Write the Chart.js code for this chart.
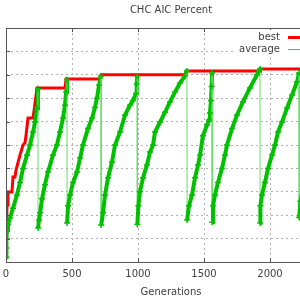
<!DOCTYPE html>
<html>
<head>
<meta charset="utf-8">
<script src="https://cdn.jsdelivr.net/npm/chart.js@4/dist/chart.umd.min.js"></script>
<style>
  html, body { margin: 0; padding: 0; overflow: hidden; background: #fff; }
  #wrap { position: absolute; left: -40px; top: 0; width: 418px; height: 300px; }
</style>
</head>
<body>
<div id="wrap"><canvas id="grafico"></canvas></div>
<script>
// Dados
const titulo = "CHC AIC Percent";
const eixoX = "Generations";
const rotulos = ["best", "average"];

const bestGen = [0, 8, 15, 45, 53, 68, 76, 106, 129, 144, 152, 167, 205, 235, 447, 455, 712, 720, 1356, 1364, 1917, 1924, 2500];
const bestVal = [8.5, 24.4, 29.9, 29.9, 36.3, 36.3, 39.3, 45.7, 50, 50.9, 54.3, 61.5, 61.5, 74.4, 74.4, 78.2, 78.2, 80, 80, 81.6, 81.6, 82.5, 82.5];

const avgGen = [
  0, 2, 4, 8, 15, 30, 53, 83, 106, 129, 159, 182, 205, 220, 235, 242,
  243, 250, 258, 273, 295, 318, 356, 386, 409, 432, 447, 455, 462,
  463, 470, 485, 508, 538, 561, 583, 621, 652, 674, 689, 705, 720,
  721, 735, 750, 773, 803, 826, 864, 902, 939, 962, 985, 990, 994,
  995, 1003, 1015, 1038, 1068, 1091, 1114, 1129, 1167, 1205, 1242, 1280, 1318, 1356, 1371,
  1372, 1386, 1409, 1432, 1455, 1470, 1492, 1523, 1538, 1545, 1553, 1558, 1561,
  1562, 1568, 1583, 1606, 1636, 1659, 1674, 1712, 1750, 1795, 1848, 1902, 1917, 1924,
  1925, 1927, 1939, 1962, 1985, 2015, 2038, 2061, 2091, 2129, 2167, 2205, 2220,
  2221, 2230, 2250, 2280, 2310, 2340, 2380, 2420, 2460, 2500
];
const avgVal = [
  2, 6, 10, 13.7, 16, 18.8, 23, 28.6, 34, 40, 45.7, 50, 55.6, 59.8, 65.8, 74,
  14.5, 18, 21, 27, 33, 38.5, 45.7, 50, 55.6, 61.5, 67, 72.6, 78,
  16.7, 24, 28.6, 34, 38.5, 44.4, 50, 57, 61.5, 66, 70, 75.6, 79.5,
  15.8, 21, 28.6, 36, 42.7, 50, 55.6, 62.8, 67, 69, 72, 76, 79.5,
  16, 24, 30, 36, 41.5, 47, 50, 55.6, 59.8, 64, 68.4, 72.6, 76.5, 79.5, 81.6,
  18, 24, 28.6, 36, 41.5, 45.7, 54, 58.5, 60.7, 63.7, 69, 75, 80.8,
  17, 24, 28.6, 34, 40, 45.7, 50, 57, 62.8, 68.4, 74.4, 80, 81.6, 82.5,
  16.7, 24, 28.6, 34, 40, 45.7, 50, 55.6, 59.8, 65.8, 71.4, 77, 80.8,
  19, 26, 31, 37, 43, 48, 54, 59, 64, 68
];

const corTexto = "#404040";
const corMoldura = "#555555";
const fonte = { family: "DejaVu Sans", size: 10 };

// moldura e marcas internas, estilo gnuplot
const moldura = {
  id: "moldura",
  afterDatasetsDraw(chart) {
    const { ctx, chartArea: a, scales } = chart;
    ctx.save();
    ctx.strokeStyle = corMoldura;
    ctx.lineWidth = 1;
    ctx.strokeRect(a.left + 0.5, a.top + 0.5, a.right - a.left, a.bottom - a.top);
    ctx.beginPath();
    scales.x.ticks.forEach(t => {
      const px = Math.round(scales.x.getPixelForValue(t.value)) + 0.5;
      ctx.moveTo(px, a.top); ctx.lineTo(px, a.top + 4);
      ctx.moveTo(px, a.bottom); ctx.lineTo(px, a.bottom - 4);
    });
    scales.y.ticks.forEach(t => {
      const py = Math.round(scales.y.getPixelForValue(t.value)) + 0.5;
      ctx.moveTo(a.left, py); ctx.lineTo(a.left + 4, py);
    });
    ctx.stroke();
    ctx.restore();
  }
};

// legenda dentro da área do gráfico
const legenda = {
  id: "legenda",
  afterDraw(chart) {
    const { ctx, chartArea: a } = chart;
    ctx.save();
    ctx.fillStyle = "#fff";
    ctx.fillRect(a.right - 100, a.top + 2, 96, 25);
    ctx.font = "10px 'DejaVu Sans'";
    ctx.textAlign = "right";
    ctx.textBaseline = "middle";
    chart.data.datasets.forEach((ds, i) => {
      const y = a.top + 9 + i * 12;
      ctx.fillStyle = corTexto;
      ctx.fillText(ds.label, a.right - 56, y);
      ctx.strokeStyle = i === 0 ? ds.borderColor : "#44cc44";
      ctx.lineWidth = i === 0 ? 3 : 1;
      ctx.beginPath();
      ctx.moveTo(a.right - 48, y + 0.5);
      ctx.lineTo(a.right - 10, y + 0.5);
      ctx.stroke();
    });
    ctx.restore();
  }
};

function criarGrafico() {
  const ctx = document.getElementById("grafico").getContext("2d");
  new Chart(ctx, {
    type: "line",
    data: {
      datasets: [
        {
          label: rotulos[0],
          data: bestGen.map((g, i) => ({ x: g, y: bestVal[i] })),
          borderColor: "#ff0000",
          borderWidth: 3,
          pointRadius: 0,
          tension: 0,
          order: 1
        },
        {
          label: rotulos[1],
          data: avgGen.map((g, i) => ({ x: g, y: avgVal[i] })),
          borderColor: "#00c000",
          borderWidth: 1,
          pointStyle: "cross",
          pointRadius: 3,
          pointBorderWidth: 1.5,
          pointBorderColor: "#00c000",
          tension: 0,
          order: 0,
          segment: {
            borderWidth: c => c.p1.parsed.y >= c.p0.parsed.y ? 4 : 1,
            borderColor: c => c.p1.parsed.y >= c.p0.parsed.y ? "#00c000" : "#66dd66"
          }
        }
      ]
    },
    options: {
      responsive: true,
      maintainAspectRatio: false,
      animation: false,
      layout: { padding: { left: 46, right: 42, top: 0, bottom: 2 } },
      plugins: {
        legend: { display: false },
        tooltip: { enabled: false },
        title: {
          display: true,
          text: titulo,
          color: corTexto,
          font: { family: "DejaVu Sans", size: 10, weight: "normal" },
          padding: { top: 4, bottom: 12 }
        }
      },
      scales: {
        x: {
          type: "linear",
          min: 0,
          max: 2500,
          ticks: { stepSize: 500, color: corTexto, font: fonte, padding: 6, maxRotation: 0, callback: v => String(v) },
          grid: { color: "#b0b0b0", drawTicks: false },
          border: { display: false, dash: [2, 3] },
          title: { display: true, text: eixoX, color: corTexto, font: fonte, padding: { top: 0, bottom: 0 } }
        },
        y: {
          min: 0,
          max: 100,
          ticks: { stepSize: 10, display: false },
          grid: { color: "#b0b0b0", drawTicks: false },
          border: { display: false, dash: [2, 3] }
        }
      }
    },
    plugins: [moldura, legenda]
  });
}

criarGrafico();
</script>
</body>
</html>
